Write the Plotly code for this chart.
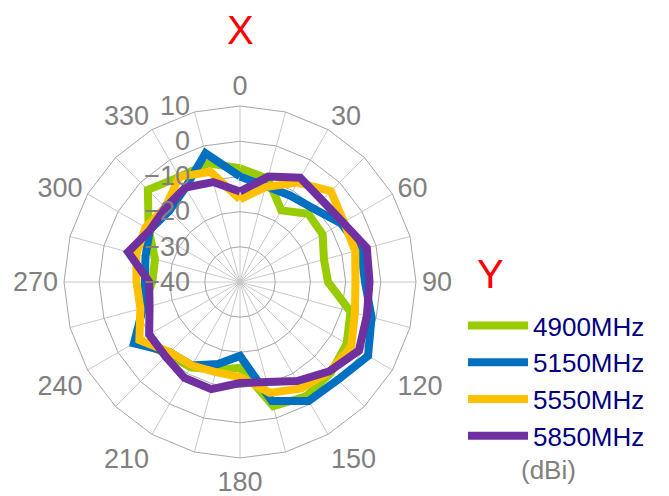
import plotly.graph_objects as go

angles = [str(a) for a in range(0, 360, 15)]
angle_labels = [a if int(a) % 30 == 0 else "" for a in angles]

series_names = ["4900MHz", "5150MHz", "5550MHz", "5850MHz"]
series_colors = ["#99CC00", "#0070C0", "#FFC000", "#7030A0"]

gain_4900 = [-7.7, -9.6, -16.5, -12.6, -12.9, -15.3, -15.0, -7.5, -5.0, -3.5, -2.5, -3.5,
             -15.6, -14.2, -12.0, -11.0, -6.3, -11.0, -15.1, -15.0, -10.0, -3.0, -5.5, -5.1]
gain_5150 = [-10.0, -11.8, -11.6, -10.5, -6.8, -4.4, -4.5, -1.3, 2.0, -0.7, -1.0, -5.0,
             -19.0, -15.9, -12.6, -11.8, -5.2, -11.5, -13.0, -12.2, -10.4, -11.5, -9.0, -2.1]
gain_5550 = [-16.5, -12.1, -7.4, -3.5, -5.9, -6.1, -7.2, -6.2, -3.5, -4.0, -5.1, -7.4,
             -13.0, -13.5, -12.6, -11.8, -7.0, -10.7, -10.6, -9.5, -9.0, -10.0, -5.5, -7.6]
gain_5850 = [-14.3, -9.0, -5.8, -7.1, -6.2, -2.7, -3.2, -2.7, -1.0, -4.1, -7.5, -10.6,
             -11.3, -8.5, -8.5, -10.1, -10.2, -13.4, -14.2, -7.1, -10.5, -10.1, -9.0, -10.6]

all_gains = [gain_4900, gain_5150, gain_5550, gain_5850]

W, H = 669, 496
OFF = 8  # page body margin offset
cx, cy, R = 240 - OFF, 282 - OFF, 176


def px(x):
    return (x - OFF) / W


def py(y):
    return (H - (y - OFF)) / H


fig = go.Figure()
for name, color, g in zip(series_names, series_colors, all_gains):
    fig.add_trace(go.Scatterpolar(
        r=g + [g[0]], theta=angles + [angles[0]], mode="lines", name=name,
        line=dict(color=color, width=8),
    ))

FONT = "Liberation Sans, Arial"
fig.update_layout(
    width=W, height=H,
    margin=dict(l=0, r=0, t=0, b=0),
    paper_bgcolor="white",
    showlegend=True,
    polar=dict(
        domain=dict(x=[(cx - R) / W, (cx + R) / W], y=[(H - cy - R) / H, (H - cy + R) / H]),
        bgcolor="white",
        gridshape="linear",
        angularaxis=dict(
            type="category", categoryarray=angles, categoryorder="array",
            rotation=90, direction="clockwise",
            tickmode="array", tickvals=angles, ticktext=angle_labels,
            tickfont=dict(family=FONT, size=27, color="#808080"),
            gridcolor="#C8C8C8", gridwidth=1,
            linecolor="#A6A6A6", linewidth=1, showline=True, ticks="",
        ),
        radialaxis=dict(
            range=[-40, 10], dtick=10, tick0=-40, angle=90, side="counterclockwise",
            tickfont=dict(family=FONT, size=27, color="#808080"),
            gridcolor="#A6A6A6", gridwidth=1, showline=False,
            ticks="outside", ticklen=40, tickcolor="rgba(0,0,0,0)",
            tickangle=90,
        ),
    ),
    legend=dict(
        x=px(463), y=py(302), xanchor="left", yanchor="top",
        font=dict(family=FONT, size=26, color="#000080"),
        itemwidth=60, tracegroupgap=0,
        bgcolor="rgba(0,0,0,0)",
    ),
    annotations=[
        dict(text="X", x=px(240), y=py(30), xref="paper", yref="paper", showarrow=False,
             xanchor="center", yanchor="middle",
             font=dict(family=FONT, size=40, color="#FF0000")),
        dict(text="Y", x=px(490), y=py(274), xref="paper", yref="paper", showarrow=False,
             xanchor="center", yanchor="middle",
             font=dict(family=FONT, size=40, color="#FF0000")),
        dict(text="(dBi)", x=px(548), y=py(470), xref="paper", yref="paper", showarrow=False,
             xanchor="center", yanchor="middle",
             font=dict(family=FONT, size=26, color="#808080")),
    ],
)

fig.write_html("out.html")
